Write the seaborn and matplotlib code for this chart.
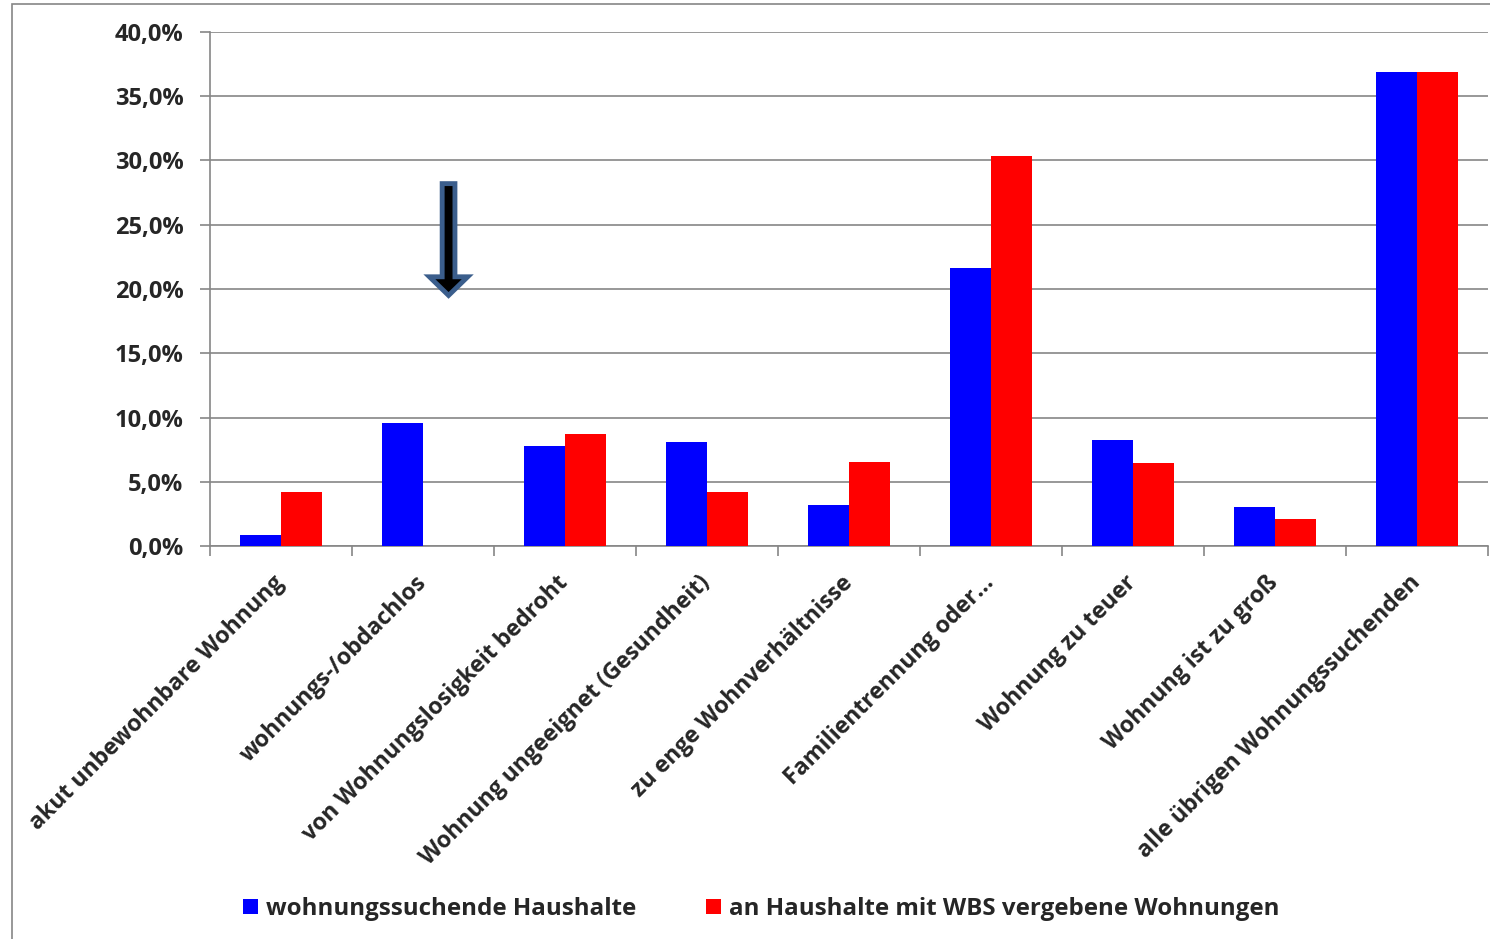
import numpy as np
import pandas as pd
import matplotlib
matplotlib.use("Agg")
import matplotlib.pyplot as plt
from matplotlib.patches import FancyArrow, Rectangle, Patch
from matplotlib.ticker import FuncFormatter, FixedLocator
import seaborn as sns

# Gründe der Wohnungssuche
kategorien = [
    "akut unbewohnbare Wohnung",
    "wohnungs-/obdachlos",
    "von Wohnungslosigkeit bedroht",
    "Wohnung ungeeignet (Gesundheit)",
    "zu enge Wohnverhältnisse",
    "Familientrennung oder...",
    "Wohnung zu teuer",
    "Wohnung ist zu groß",
    "alle übrigen Wohnungssuchenden",
]
suchende = [0.84, 9.56, 7.76, 8.1, 3.2, 21.63, 8.23, 3.0, 36.89]
vergeben = [4.2, 0.0, 8.7, 4.2, 6.5, 30.35, 6.44, 2.08, 36.89]
serien = ["wohnungssuchende Haushalte", "an Haushalte mit WBS vergebene Wohnungen"]
y_ticks = [0, 5, 10, 15, 20, 25, 30, 35, 40]

farben = ["#0000FF", "#FF0000"]
grau = "#868686"

df = pd.DataFrame({
    "Kategorie": kategorien * 2,
    "Anteil": suchende + vergeben,
    "Serie": [serien[0]] * len(kategorien) + [serien[1]] * len(kategorien),
})

sns.set_theme(style="white")
plt.rcParams["font.family"] = ["Open Sans", "DejaVu Sans"]
plt.rcParams["font.weight"] = "bold"

fig = plt.figure(figsize=(14.9, 9.39), dpi=100)
ax = fig.add_axes([210 / 1490, 393 / 939, 1278 / 1490, 514 / 939])

sns.barplot(data=df, x="Kategorie", y="Anteil", hue="Serie", order=kategorien,
            hue_order=serien, palette=farben, saturation=1, width=0.577,
            dodge=True, legend=False, ax=ax, linewidth=0, zorder=3)

ax.set_xlim(-0.5, len(kategorien) - 0.5)
ax.set_ylim(0, 40)
ax.set_xlabel("")
ax.set_ylabel("")

# y-Achse mit Gitterlinien
ax.yaxis.set_major_locator(FixedLocator(y_ticks))
ax.yaxis.set_major_formatter(FuncFormatter(lambda v, p: f"{v:.1f}%".replace(".", ",")))
ax.grid(axis="y", color=grau, linewidth=1.2, zorder=0)
ax.tick_params(axis="y", which="major", length=7.2, width=1.2, color=grau,
               labelsize=17, pad=12, left=True)
for t in ax.get_yticklabels():
    t.set_fontweight("bold")

# x-Achse: Striche an den Kategoriegrenzen, Beschriftung schräg
ax.set_xticks(np.arange(len(kategorien)))
ax.set_xticklabels(kategorien, rotation=45, ha="right", va="center",
                   rotation_mode="anchor", fontsize=16.7, fontweight="bold")
ax.tick_params(axis="x", which="major", length=0, pad=24)
ax.set_xticks(np.arange(-0.5, len(kategorien)), minor=True)
ax.tick_params(axis="x", which="minor", length=7.2, width=1.2, color=grau, bottom=True)

for side in ["top", "right"]:
    ax.spines[side].set_visible(False)
for side in ["left", "bottom"]:
    ax.spines[side].set_color(grau)
    ax.spines[side].set_linewidth(1.2)

# Hinweispfeil über "wohnungs-/obdachlos"
pfeil_x, pfeil_oben, pfeil_spitze = 1.18, 28.2, 19.5
ax.add_patch(FancyArrow(pfeil_x, pfeil_oben, 0, pfeil_spitze - pfeil_oben,
                        width=0.09, head_width=0.27, head_length=1.45,
                        length_includes_head=True, facecolor="black",
                        edgecolor="#3B5E8C", linewidth=3.5, zorder=5))

# Legende unten
handles = [Patch(facecolor=c, edgecolor="none") for c in farben]
fig.legend(handles, serien, loc="center", bbox_to_anchor=(0.511, 0.032), ncol=2,
           frameon=False, handlelength=0.6, handleheight=0.6, handletextpad=0.35,
           columnspacing=2.9, prop={"size": 17.4, "weight": "bold"})

# Rahmen der Grafik
fig.patches.append(Rectangle((12 / 1490, -0.05), 1.1, (935 / 939) + 0.05,
                             transform=fig.transFigure, fill=False,
                             edgecolor=grau, linewidth=1.2))

fig.savefig("out.png", dpi=100)
